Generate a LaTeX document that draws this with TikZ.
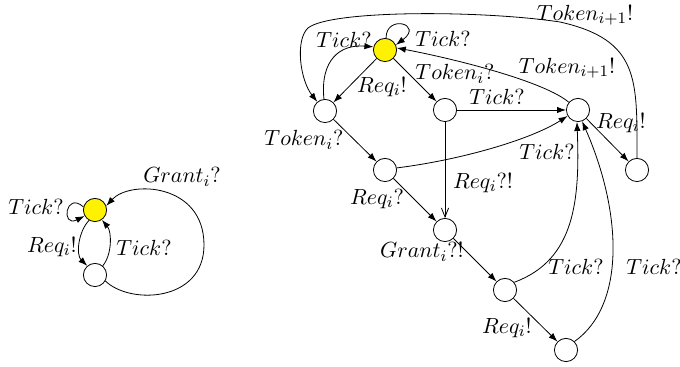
\documentclass[tikz,border=0pt]{standalone}
\usetikzlibrary{arrows.meta}
\begin{document}
\begin{tikzpicture}[x=0.5pt,y=-0.5pt,
    state/.style={circle,draw,minimum size=11.6pt,inner sep=0pt},
    init/.style={state,fill=yellow},
    lbl/.style={font=\fontsize{11}{13}\selectfont,inner sep=0pt},
    arr/.style={-{Latex[length=4.5pt,width=3.2pt]}},
    open/.style={-{Straight Barb[length=4.5pt,width=3.6pt]}}]
  \useasboundingbox (0,0) rectangle (680,367);
  % left automaton
  \node[init] (l0) at (95,210) {};
  \node[state] (l1) at (95,275) {};
  % right automaton
  \node[init] (y) at (385,50) {};
  \foreach \n/\x/\y in {a/325/111,b/445/110,c/578/110,d/385/170,e/637/170,
                        f/445/230,g/505/290,h/566/350}
    \node[state] (\n) at (\x,\y) {};
  % labels
  \foreach \n/\x/\y/\t in {t1/36/207/Tick?,t2/52/247/Req_i!,t3/144/248/Tick?,
      t4/182/177/Grant_i?,t5/344/40/Tick?,t6/443/39/Tick?,t7/382/87/Req_i!,
      t8/455/74/Token_i?,t9/497/97/Tick?,t10/567/68/Token_{i+1}!,
      t11/585/15/Token_{i+1}!,t12/304/140/Token_i?,t13/547/152/Tick?,
      t14/621/123/Req_i!,t15/483/183/Req_i?!,t16/377/199/Req_i?,
      t17/422/252/Grant_i?!,t18/576/267/Tick?,t19/654/267/Tick?,
      t20/507/328/Req_i!}
    \node[lbl] (\n) at (\x,\y) {$\t$};
  % left edges
  \draw[arr] (l0.165) .. controls +(-18,-16) and +(-24,12) .. (l0.210);
  \draw[arr] (l0.240) .. controls (78,232) and (76,255) .. (l1.130);
  \draw[arr] (l1.50) .. controls (112,255) and (112,232) .. (l0.-55);
  \draw[arr] (l1.-30) .. controls (130,305) and (204,302) .. (204,245)
    .. controls (204,183) and (130,180) .. (l0.20);
  % right edges
  \foreach \a/\b in {y/a,y/b,b/c,a/d,c/e,d/f,f/g,g/h}
    \draw[arr] (\a) -- (\b);
  \draw[open] (b) -- (f);
  \draw[arr] (y.85) .. controls (386,14) and (424,24) .. (y.25);
  \draw[arr] (a.95) .. controls (320,60) and (340,44) .. (y.165);
  \draw[arr] (c.140) .. controls (545,82) and (460,60) .. (y.10);
  \draw[arr] (e.90) .. controls (637,80) and (640,40) .. (560,22)
    .. controls (480,10) and (330,10) .. (308,28)
    .. controls (295,40) and (300,80) .. (a.130);
  \draw[arr] (d.10) .. controls (460,160) and (530,140) .. (c.210);
  \draw[arr] (g.40) .. controls (575,260) and (580,200) .. (c.265);
  \draw[arr] (h.45) .. controls (626,305) and (622,212) .. (c.290);
\end{tikzpicture}
\end{document}
